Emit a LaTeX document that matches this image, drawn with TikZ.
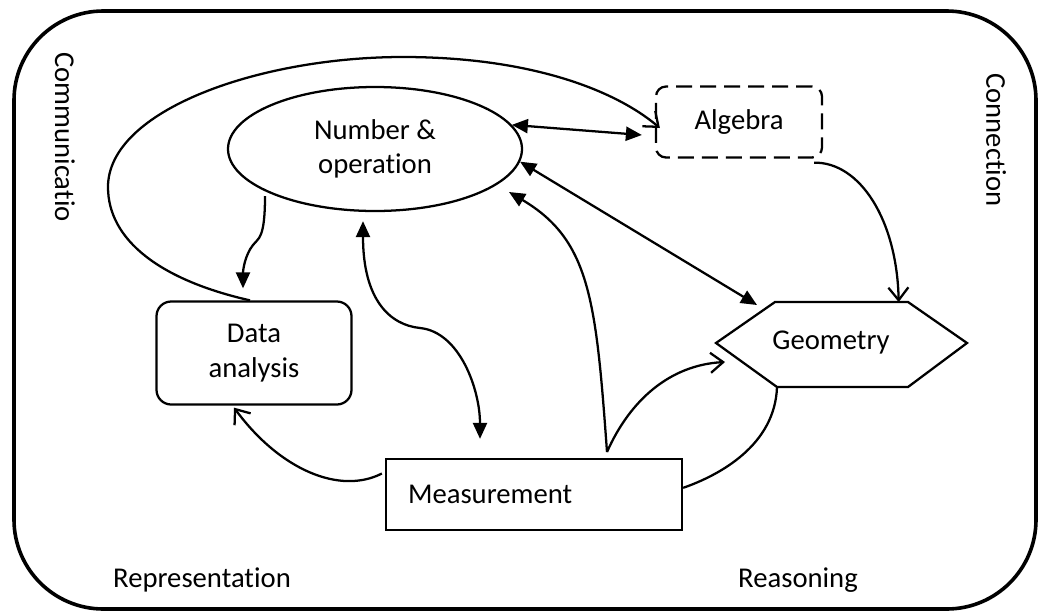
\documentclass[tikz,border=0pt]{standalone}
\usepackage{fontspec}
\setmainfont[Ligatures=NoCommon]{Carlito}
\usetikzlibrary{shapes.geometric,arrows.meta,calc}
\begin{document}
\begin{tikzpicture}[x=0.75pt,y=-0.75pt,
  every node/.style={font=\fontsize{21.5}{26}\selectfont},
  box/.style={draw,line width=1.7pt,inner sep=0pt,align=center},
  conn/.style={line width=1.7pt},
  fa/.style={-{Triangle[length=12pt,width=10.5pt]}},
  fb/.style={{Triangle[length=12pt,width=10.5pt]}-{Triangle[length=12pt,width=10.5pt]}},
  oa/.style={-{Straight Barb[length=9.5pt,width=15pt,line width=1.7pt]}},
  lbl/.style={inner sep=0pt}]
\useasboundingbox (0,0) rectangle (1042,611);
% outer frame
\draw[line width=2.7pt,rounded corners=67pt] (14,11) rectangle (1036,609);
% nodes
\node[box,ellipse,minimum width=220.5pt,minimum height=93pt] (num) at (375,149) {Number \&\\operation};
\node[box,dashed,dash pattern=on 12pt off 6pt,rounded corners=7.5pt,minimum width=124.5pt,minimum height=53.25pt] (alg) at (739,122) {Algebra};
\node[box,rounded corners=11pt,minimum width=146.25pt,minimum height=77.25pt] (da) at (254,353) {Data\\analysis};
\node[draw,line width=1.7pt,inner xsep=16.5pt,inner ysep=0pt,text width=189pt,align=left,minimum height=53.25pt] (meas) at (534,494.5) {Measurement};
% geometry hexagon
\coordinate (g1) at (716,343);
\coordinate (g2) at (775,302);
\coordinate (g3) at (908,302);
\coordinate (g4) at (967,343);
\coordinate (g5) at (908,387);
\coordinate (g6) at (777,387);
\draw[line width=1.7pt] (g1) -- (g2) -- (g3) -- (g4) -- (g5) -- (g6) -- cycle;
\node[lbl] (geo) at (831,343) {Geometry};
% side labels
\node[lbl,rotate=-90] (comm) at (65,137) {Communicatio};
\node[lbl,rotate=-90] (cnx) at (996,140) {Connection};
\node[lbl] (rep) at (202,580) {Representation};
\node[lbl] (rea) at (798,580) {Reasoning};
% connectors
\coordinate (m1) at (607,452);
\draw[conn,oa] ([xshift=-3pt]da.north) .. controls (160,280) and (108,240) .. (108,187)
  .. controls (108,110) and (260,57) .. (403,57)
  .. controls (530,57) and (615,90) .. ([shift={(5,6)}]alg.west);
\draw[conn,fb] (num.10) -- ([shift={(-13,13)}]alg.west);
\draw[conn,fb] (num.-5.6) -- ([shift={(-18,3)}]g2);
\draw[conn,fa] (m1) .. controls (596,300) and (590,240) .. ([shift={(134,43)}]num.center);
\draw[conn,oa] (m1) .. controls (630,400) and (670,365) .. ([shift={(9,19)}]g1);
\draw[conn,oa] ([shift={(-9,4)}]alg.south east) .. controls (860,162) and (897,220) .. ([xshift=-7pt]g3);
\draw[conn] (g6) .. controls (775,445) and (720,475) .. ([yshift=5pt]meas.east);
\draw[conn,fa] ([shift={(-110,47)}]num.center) .. controls (265,240) and (258,238) .. (253,245)
  .. controls (245,255) and (243,270) .. ([shift={(-11,-12)}]da.north);
\draw[conn,oa] ([shift={(-3,-21)}]meas.west) .. controls (340,495) and (280,470) .. ([shift={(-20,2)}]da.south);
\draw[conn,fb] ([shift={(-12,9)}]num.south) .. controls (363,300) and (390,325) .. (420,328)
  .. controls (460,332) and (480,390) .. ([shift={(-54,-19)}]meas.north);
\end{tikzpicture}
\end{document}
